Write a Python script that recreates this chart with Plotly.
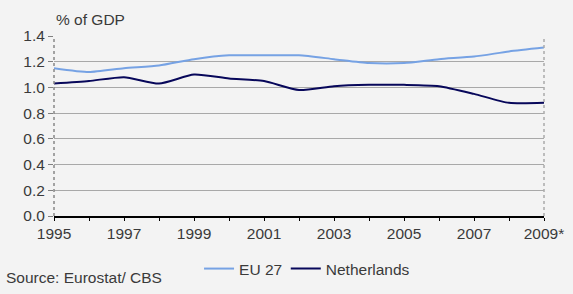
import plotly.graph_objects as go

years = list(range(1995, 2010))
tick_labels = ["1995", "", "1997", "", "1999", "", "2001", "", "2003", "", "2005", "", "2007", "", "2009*"]
eu27 = [1.15, 1.12, 1.15, 1.17, 1.22, 1.25, 1.25, 1.25, 1.22, 1.19, 1.19, 1.22, 1.24, 1.28, 1.31]
netherlands = [1.03, 1.05, 1.08, 1.03, 1.10, 1.07, 1.05, 0.98, 1.01, 1.02, 1.02, 1.01, 0.95, 0.88, 0.88]

font = dict(family="Liberation Sans, Arial, sans-serif", size=15.5, color="#3a3a3a")

fig = go.Figure()
fig.add_trace(go.Scatter(x=years, y=eu27, name="EU 27", mode="lines", legend="legend",
                         line=dict(color="#76a2e4", width=2, shape="spline", smoothing=0.6)))
fig.add_trace(go.Scatter(x=years, y=netherlands, name="Netherlands", mode="lines", legend="legend2",
                         line=dict(color="#07075a", width=2, shape="spline", smoothing=0.6)))

leg_common = dict(orientation="h", xanchor="left", y=-0.2, yanchor="top",
                  bgcolor="rgba(0,0,0,0)", font=font, itemwidth=30)

fig.update_layout(
    width=573, height=294,
    margin=dict(l=54, r=29, t=36, b=78, autoexpand=False),
    paper_bgcolor="#f3f3f3", plot_bgcolor="#f3f3f3",
    font=font,
    showlegend=True,
    legend=dict(x=0.296, **leg_common),
    legend2=dict(x=0.473, **leg_common),
    xaxis=dict(range=[1995, 2009], tickvals=years, ticktext=tick_labels,
               showgrid=False, zeroline=False, showline=True, linecolor="#000000", linewidth=1.5,
               ticks="outside", ticklen=3, tickcolor="#000000", tickfont=font),
    yaxis=dict(range=[0, 1.4], dtick=0.2, tickformat=".1f", showgrid=True,
               gridcolor="#a8a8a8", gridwidth=1, zeroline=False, showline=False,
               ticks="outside", ticklen=5, tickcolor="#808080", tickfont=font),
    shapes=[
        dict(type="line", xref="paper", yref="paper", x0=0, x1=0, y0=0, y1=1,
             line=dict(color="#888888", width=1.5, dash="dot")),
        dict(type="line", xref="paper", yref="paper", x0=1, x1=1, y0=0, y1=1,
             line=dict(color="#aaaaaa", width=1.5, dash="dot")),
    ],
    annotations=[
        dict(text="% of GDP", xref="paper", yref="paper", x=0.0, y=1.0, xanchor="left",
             yanchor="bottom", xshift=0, yshift=6, showarrow=False, font=font),
        dict(text="Source: Eurostat/ CBS", xref="paper", yref="paper", x=0, y=0,
             xanchor="left", yanchor="top", xshift=-50, yshift=-51, showarrow=False, font=font),
    ],
)

fig.write_html("out.html")
